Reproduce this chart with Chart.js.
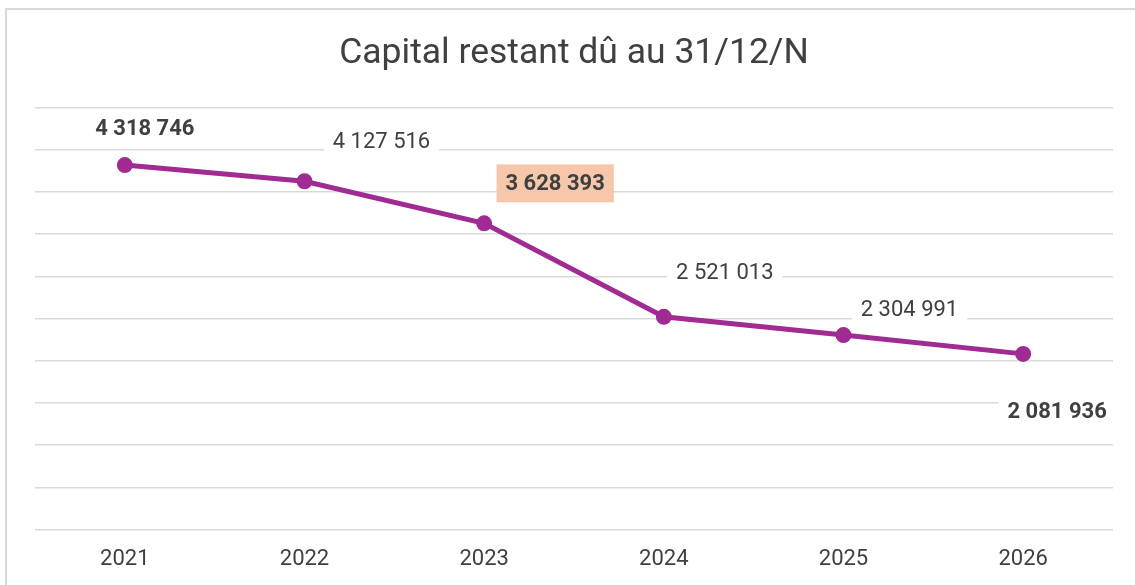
<!DOCTYPE html>
<html>
<head>
<meta charset="utf-8">
<script src="https://cdn.jsdelivr.net/npm/chart.js@4/dist/chart.umd.min.js"></script>
<style>
  html, body { margin: 0; padding: 0; background: #fff; }
  #wrap { position: relative; width: 1135px; height: 585px; overflow: hidden; }
  #frame { position: absolute; left: 5px; top: 8px; width: 1200px; height: 700px; border: 2px solid #d9d9d9; box-sizing: border-box; }
  canvas { position: absolute; left: 0; top: 0; }
</style>
</head>
<body>
<div id="wrap">
  <div id="frame"></div>
  <canvas id="myChart" width="1135" height="606"></canvas>
</div>
<script>
// données du graphique
const years = ["2021", "2022", "2023", "2024", "2025", "2026"];
const capital = [4318746, 4127516, 3628393, 2521013, 2304991, 2081936];
const yTicks = [0, 500000, 1000000, 1500000, 2000000, 2500000, 3000000, 3500000, 4000000, 4500000, 5000000];

// style des étiquettes (décalage depuis le point, gras, fond)
const labelOffsets = [[20, -37], [77, -40], [71, -40], [61, -44], [66, -26], [34, 58]];
const labelBold = [true, false, true, false, false, true];
const labelFill = ["#ffffff", "#ffffff", "#F7C7AC", "#ffffff", "#ffffff", "#ffffff"];

function fmt(n) {
    return String(n).replace(/\B(?=(\d{3})+(?!\d))/g, " ");
}

const labelPlugin = {
    id: "valueLabels",
    afterDatasetsDraw(chart) {
        const ctx = chart.ctx;
        const meta = chart.getDatasetMeta(0);
        ctx.save();
        meta.data.forEach((pt, i) => {
            const txt = fmt(capital[i]);
            const x = pt.x + labelOffsets[i][0];
            const y = pt.y + labelOffsets[i][1];
            ctx.font = (labelBold[i] ? "bold " : "") + "22px Roboto";
            const w = ctx.measureText(txt).width;
            ctx.fillStyle = labelFill[i];
            ctx.fillRect(x - w / 2 - 9, y - 19, w + 18, 38);
            ctx.fillStyle = "#404040";
            ctx.textAlign = "center";
            ctx.textBaseline = "middle";
            ctx.fillText(txt, x, y + 1);
        });
        ctx.restore();
    }
};

new Chart("myChart", {
    type: "line",
    data: {
        labels: years,
        datasets: [{
            data: capital,
            borderColor: "#A02B93",
            backgroundColor: "#A02B93",
            borderWidth: 5,
            pointRadius: 5.5,
            pointHoverRadius: 5.5,
            tension: 0
        }]
    },
    options: {
        responsive: false,
        animation: false,
        layout: { padding: { left: 35, right: 22, top: 0, bottom: 16 } },
        plugins: {
            legend: { display: false },
            tooltip: { enabled: false },
            title: {
                display: true,
                text: "Capital restant dû au 31/12/N",
                color: "#404040",
                font: { family: "Roboto", size: 35.5, weight: "normal", lineHeight: 1.2 },
                padding: { top: 33, bottom: 32 }
            }
        },
        scales: {
            x: {
                offset: true,
                grid: { display: false, drawTicks: false },
                border: { display: false },
                ticks: { color: "#404040", font: { family: "Roboto", size: 22 }, padding: 17 }
            },
            y: {
                min: 0,
                max: 5000000,
                afterBuildTicks: (axis) => { axis.ticks = yTicks.map(v => ({ value: v })); },
                grid: { color: "#d9d9d9", lineWidth: 1.5, drawTicks: false },
                border: { display: false },
                ticks: { display: false }
            }
        }
    },
    plugins: [labelPlugin]
});
</script>
</body>
</html>
